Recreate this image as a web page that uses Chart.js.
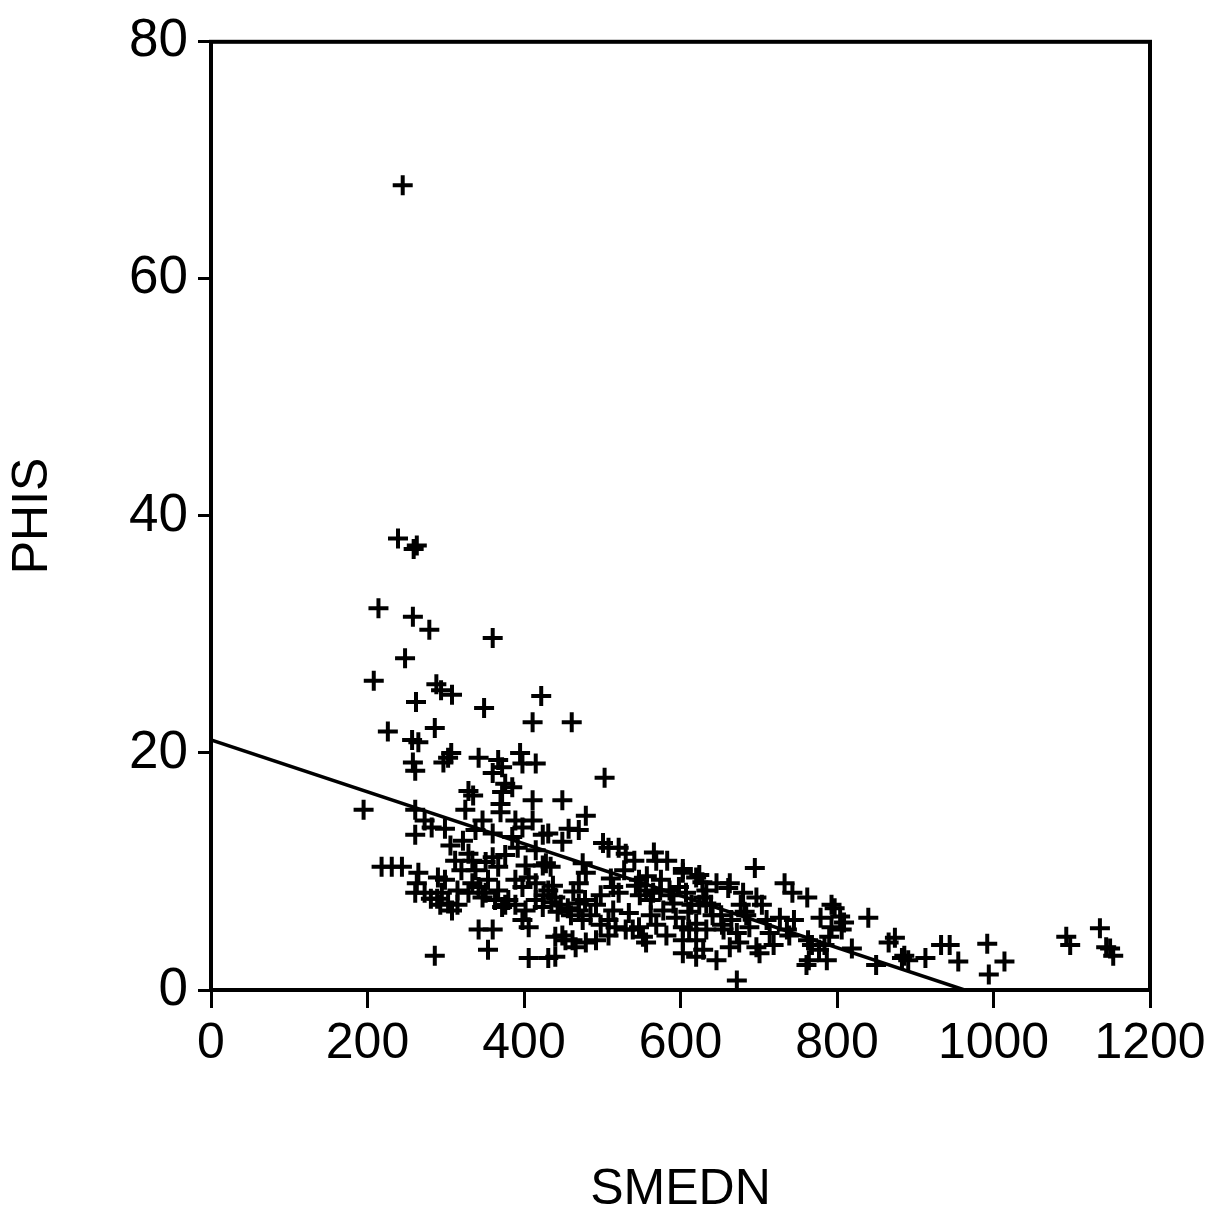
<!DOCTYPE html>
<html>
<head>
<meta charset="utf-8">
<title>PHIS vs SMEDN</title>
<script src="https://cdn.jsdelivr.net/npm/chart.js@4.4.0/dist/chart.umd.min.js"></script>
<style>
  html, body { margin: 0; padding: 0; background: #fff; }
  #wrap { width: 1227px; height: 1215px; }
</style>
</head>
<body>
<div id="wrap"><canvas id="scatterChart" width="1227" height="1215"></canvas></div>
<script>
const smedn = [
  245, 239, 259, 263, 214, 258, 279, 360, 208, 248,
  288, 294, 308, 262, 349, 422, 411, 461, 226, 286,
  257, 265, 303, 297, 307, 258, 261, 342, 367, 372,
  395, 398, 415, 360, 376, 503, 195, 329, 335, 372,
  370, 411, 385, 449, 261, 273, 282, 261, 325, 299,
  338, 360, 389, 398, 411, 385, 392, 424, 322, 479,
  470, 457, 431, 449, 312, 329, 334, 360, 367, 428,
  218, 231, 244, 265, 263, 290, 299, 261, 295, 303,
  308, 334, 342, 354, 329, 347, 363, 372, 380, 389,
  398, 406, 415, 398, 406, 342, 360, 354, 286, 406,
  431, 415, 424, 289, 315, 320, 435, 443, 456, 470,
  478, 463, 434, 424, 475, 479, 470, 431, 440, 470,
  475, 449, 462, 440, 453, 466, 479, 492, 440, 501,
  508, 521, 530, 541, 566, 569, 695, 583, 603, 514,
  521, 547, 556, 565, 603, 620, 586, 598, 646, 663,
  680, 697, 629, 633, 514, 508, 517, 530, 547, 552,
  534, 578, 591, 594, 603, 611, 620, 603, 603, 620,
  629, 646, 672, 655, 672, 688, 663, 675, 697, 701,
  710, 727, 745, 714, 556, 539, 624, 628, 557, 548,
  574, 610, 624, 641, 653, 661, 677, 682, 719, 736,
  739, 763, 768, 777, 784, 790, 761, 764, 793, 779,
  797, 804, 809, 806, 787, 819, 840, 850, 866, 874,
  883, 886, 891, 913, 933, 944, 955, 992, 994, 1014,
  1093, 1098, 1136, 1144, 1153, 1149, 793, 733, 743, 762,
  273, 281, 293, 315, 351, 367, 376, 389, 402, 425,
  437, 447, 460, 485, 492, 498, 511, 528, 543, 562,
  575, 588, 607, 614, 633, 639, 652, 665, 684, 704,
  569, 582, 562, 620, 633, 498, 508, 338, 351, 376,
  402, 415, 306, 347, 370
];
const phis = [
  67.9, 38.1, 37.2, 37.5, 32.2, 31.5, 30.4, 29.7, 26.1, 28.0,
  25.8, 25.3, 24.9, 24.3, 23.8, 24.8, 22.6, 22.6, 21.8, 22.1,
  21.1, 20.9, 19.6, 19.2, 20.0, 19.2, 18.5, 19.6, 19.4, 18.8,
  20.0, 19.1, 19.1, 18.3, 17.4, 17.9, 15.2, 16.8, 16.4, 16.7,
  15.7, 16.0, 17.1, 16.0, 15.2, 14.3, 13.7, 13.1, 15.2, 13.6,
  13.5, 13.2, 14.3, 13.7, 14.3, 12.9, 12.0, 13.1, 12.6, 14.7,
  13.5, 13.6, 13.2, 12.5, 10.9, 11.5, 10.9, 11.2, 10.4, 10.7,
  10.4, 10.4, 10.4, 9.9, 9.0, 9.5, 9.3, 8.2, 8.2, 7.3,
  6.7, 9.0, 8.7, 9.3, 8.2, 7.8, 7.6, 7.0, 7.6, 9.3,
  8.7, 9.5, 9.0, 5.9, 5.3, 5.1, 5.1, 3.4, 2.9, 2.7,
  2.7, 7.6, 7.0, 7.7, 7.2, 10.1, 7.4, 6.6, 6.9, 7.3,
  7.6, 8.3, 10.4, 10.5, 10.7, 9.9, 9.0, 8.4, 7.8, 6.7,
  5.9, 4.6, 4.2, 4.5, 4.2, 3.6, 4.0, 4.2, 2.8, 12.4,
  12.0, 12.0, 11.5, 10.9, 11.6, 10.9, 10.3, 10.9, 10.2, 8.7,
  8.2, 9.3, 8.4, 8.2, 9.9, 9.5, 8.4, 8.7, 9.0, 9.0,
  8.2, 7.8, 7.8, 7.3, 6.7, 5.9, 5.3, 5.1, 5.3, 4.5,
  6.5, 6.7, 7.3, 6.1, 5.3, 5.1, 5.6, 4.2, 3.1, 2.8,
  3.4, 2.5, 0.8, 5.1, 4.8, 5.3, 3.6, 4.0, 3.6, 3.1,
  5.9, 6.1, 5.9, 4.8, 4.0, 5.1, 9.7, 9.1, 9.6, 8.0,
  8.4, 6.6, 7.2, 6.3, 5.5, 8.6, 7.2, 6.6, 3.8, 5.1,
  4.6, 4.2, 3.8, 3.4, 3.8, 4.5, 2.1, 2.5, 5.3, 6.1,
  6.9, 6.2, 5.7, 5.1, 2.5, 3.5, 6.1, 2.1, 4.0, 4.4,
  2.7, 2.9, 2.5, 2.7, 3.8, 3.8, 2.4, 3.9, 1.3, 2.4,
  4.5, 3.8, 5.2, 3.6, 2.9, 3.5, 7.2, 9.0, 8.2, 7.8,
  8.2, 7.7, 7.2, 8.4, 8.2, 8.4, 7.2, 7.2, 6.7, 8.0,
  8.8, 7.2, 6.3, 6.3, 7.2, 8.0, 9.4, 10.1, 8.8, 7.6,
  9.3, 8.0, 8.2, 7.2, 8.4, 7.2, 6.3, 5.9, 6.3, 7.2,
  5.5, 4.6, 6.3, 4.2, 5.1, 5.5, 4.6, 10.1, 10.8, 11.4,
  10.5, 11.8, 12.2, 14.3, 15.0
];

// Fitted regression line (intercept and x-intercept)
const fitX = [0, 963];
const fitY = [21.1, 0];

// Axis ticks
const xTicks = [0, 200, 400, 600, 800, 1000, 1200];
const yTicks = [0, 20, 40, 60, 80];

const FONT = "'Liberation Sans', Arial, Helvetica, sans-serif";

// Draw the closed box around the plot area
const frameBox = {
  id: "frameBox",
  afterDraw(chart) {
    const { ctx, chartArea } = chart;
    ctx.save();
    ctx.strokeStyle = "#000";
    ctx.lineWidth = 4;
    ctx.strokeRect(chartArea.left, chartArea.top,
      chartArea.right - chartArea.left, chartArea.bottom - chartArea.top);
    ctx.restore();
  },
};

const points = smedn.map((x, i) => ({ x: x, y: phis[i] }));
const fitLine = fitX.map((x, i) => ({ x: x, y: fitY[i] }));

new Chart(document.getElementById("scatterChart").getContext("2d"), {
  type: "scatter",
  data: {
    datasets: [
      {
        label: "PHIS",
        data: points,
        pointStyle: "cross",
        pointRadius: 10,
        pointHoverRadius: 10,
        borderWidth: 4,
        borderColor: "#000",
        backgroundColor: "#000",
      },
      {
        type: "line",
        label: "fit",
        data: fitLine,
        borderColor: "#000",
        borderWidth: 3.5,
        pointRadius: 0,
        fill: false,
        tension: 0,
      },
    ],
  },
  options: {
    responsive: false,
    animation: false,
    events: [],
    layout: { padding: { left: 0, right: 77, top: 40, bottom: 0 } },
    plugins: {
      legend: { display: false },
      tooltip: { enabled: false },
    },
    scales: {
      x: {
        type: "linear",
        min: 0,
        max: 1200,
        afterFit: (scale) => { scale.height = 225; },
        afterBuildTicks: (scale) => { scale.ticks = xTicks.map((v) => ({ value: v })); },
        ticks: {
          color: "#000",
          font: { family: FONT, size: 50 },
          padding: 6,
          maxRotation: 0,
          callback: (value) => String(value),
        },
        grid: {
          drawOnChartArea: false,
          drawTicks: true,
          tickLength: 18,
          tickWidth: 3,
          color: "#000",
        },
        border: { display: true, color: "#000", width: 4 },
        title: {
          display: true,
          text: "SMEDN",
          color: "#000",
          font: { family: FONT, size: 50, lineHeight: 1 },
          padding: 0,
        },
      },
      y: {
        type: "linear",
        min: 0,
        max: 80,
        afterFit: (scale) => { scale.width = 211; },
        afterBuildTicks: (scale) => { scale.ticks = yTicks.map((v) => ({ value: v })); },
        ticks: {
          color: "#000",
          font: { family: FONT, size: 53 },
          padding: 10,
          callback: (value) => String(value),
        },
        grid: {
          drawOnChartArea: false,
          drawTicks: true,
          tickLength: 13,
          tickWidth: 3,
          color: "#000",
        },
        border: { display: true, color: "#000", width: 4 },
        title: {
          display: true,
          text: "PHIS",
          color: "#000",
          font: { family: FONT, size: 50, lineHeight: 1 },
          padding: { top: 8, bottom: 0 },
        },
      },
    },
  },
  plugins: [frameBox],
});
</script>
</body>
</html>
